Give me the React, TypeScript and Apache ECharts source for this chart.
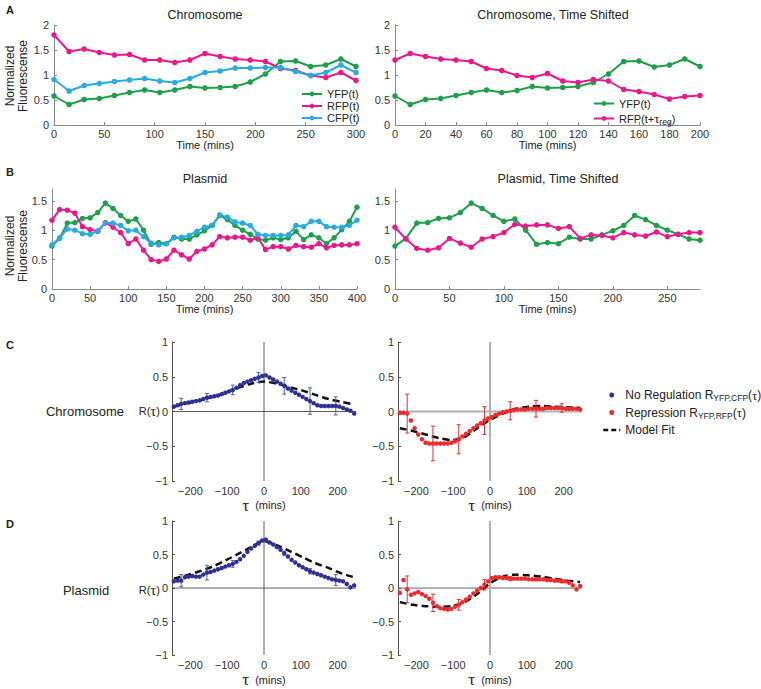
import React, { useEffect, useRef } from 'react';
import * as echarts from 'echarts';

const FONT = '"Liberation Sans", Arial, Helvetica, sans-serif';
const SERIF = '"Liberation Serif", "DejaVu Serif", serif';
const GREEN = '#1f9e4b';
const MAGENTA = '#e8198b';
const CYAN = '#29abe2';
const NAVY = '#2e3192';
const RED = '#ee2a2e';

// Panel A (chromosome)
const A_TIME = [0, 15, 30, 45, 60, 75, 90, 105, 120, 135, 150, 165, 180, 195, 210, 225, 240, 255, 270, 285, 300];
const A_YFP = [0.58, 0.41, 0.51, 0.53, 0.59, 0.65, 0.70, 0.65, 0.70, 0.77, 0.74, 0.75, 0.77, 0.86, 1.02, 1.27, 1.28, 1.17, 1.20, 1.32, 1.17];
const A_RFP = [1.80, 1.47, 1.52, 1.45, 1.40, 1.41, 1.30, 1.30, 1.25, 1.30, 1.43, 1.37, 1.32, 1.30, 1.27, 1.13, 1.09, 0.99, 0.95, 1.05, 0.89];
const A_CFP = [0.91, 0.68, 0.79, 0.83, 0.87, 0.90, 0.93, 0.88, 0.85, 0.93, 1.05, 1.08, 1.14, 1.14, 1.15, 1.15, 1.07, 0.99, 1.05, 1.20, 1.05];

const AS_TIME = [0, 10, 20, 30, 40, 50, 60, 70, 80, 90, 100, 110, 120, 130, 140, 150, 160, 170, 180, 190, 200];
const AS_YFP = [0.58, 0.41, 0.51, 0.53, 0.59, 0.65, 0.70, 0.65, 0.69, 0.77, 0.74, 0.75, 0.77, 0.85, 1.02, 1.27, 1.28, 1.16, 1.20, 1.32, 1.17];
const AS_RFP = [1.30, 1.43, 1.37, 1.32, 1.30, 1.27, 1.13, 1.09, 0.99, 0.95, 1.03, 0.88, 0.85, 0.91, 0.88, 0.71, 0.67, 0.61, 0.52, 0.57, 0.59];

// Panel B (plasmid)
const B_TIME = [0, 10, 20, 30, 40, 50, 60, 70, 80, 90, 100, 110, 120, 130, 140, 150, 160, 170, 180, 190, 200, 210, 220, 230, 240, 250, 260, 270, 280, 290, 300, 310, 320, 330, 340, 350, 360, 370, 380, 390, 400];
const B_YFP = [0.73, 0.86, 1.12, 1.13, 1.20, 1.21, 1.30, 1.46, 1.37, 1.25, 1.15, 1.19, 1.00, 0.76, 0.79, 0.77, 0.88, 0.85, 0.85, 0.92, 0.99, 1.08, 1.25, 1.18, 1.08, 1.00, 0.93, 0.85, 0.83, 0.87, 0.84, 0.87, 0.98, 0.84, 0.92, 0.87, 0.77, 0.87, 1.01, 1.15, 1.39];
const B_RFP = [1.17, 1.35, 1.34, 1.29, 1.06, 1.01, 0.98, 1.13, 1.05, 0.96, 0.77, 0.85, 0.66, 0.50, 0.47, 0.51, 0.66, 0.58, 0.51, 0.64, 0.68, 0.75, 0.89, 0.87, 0.88, 0.88, 0.83, 0.87, 0.67, 0.72, 0.72, 0.68, 0.74, 0.72, 0.71, 0.77, 0.70, 0.74, 0.75, 0.75, 0.77];
const B_CFP = [0.75, 0.87, 1.02, 1.00, 0.94, 0.93, 0.99, 1.12, 1.12, 1.08, 0.99, 1.00, 0.89, 0.78, 0.75, 0.77, 0.87, 0.88, 0.91, 0.98, 1.05, 1.08, 1.26, 1.22, 1.14, 1.12, 1.08, 0.93, 0.91, 0.91, 0.91, 0.92, 1.08, 1.06, 1.15, 1.15, 1.06, 1.05, 1.05, 1.08, 1.17];

const BS_TIME = [0, 10, 20, 30, 40, 50, 60, 70, 80, 90, 100, 110, 120, 130, 140, 150, 160, 170, 180, 190, 200, 210, 220, 230, 240, 250, 260, 270, 280];
const BS_YFP = [0.73, 0.86, 1.12, 1.13, 1.20, 1.21, 1.30, 1.46, 1.37, 1.25, 1.15, 1.19, 1.00, 0.76, 0.79, 0.77, 0.88, 0.85, 0.85, 0.92, 0.99, 1.08, 1.25, 1.18, 1.08, 1.00, 0.93, 0.85, 0.83];
const BS_RFP = [1.05, 0.85, 0.69, 0.66, 0.70, 0.86, 0.78, 0.71, 0.85, 0.89, 0.96, 1.10, 1.07, 1.09, 1.09, 1.03, 1.06, 0.86, 0.92, 0.91, 0.87, 0.96, 0.92, 0.90, 0.97, 0.89, 0.93, 0.96, 0.96];

// Panels C / D (correlation functions)
const TAU = [-245, -235, -225, -215, -205, -195, -185, -175, -165, -155, -145, -135, -125, -115, -105, -95, -85, -75, -65, -55, -45, -35, -25, -15, -5, 5, 15, 25, 35, 45, 55, 65, 75, 85, 95, 105, 115, 125, 135, 145, 155, 165, 175, 185, 195, 205, 215, 225, 235, 245];
const C_NOREG = [0.07, 0.09, 0.11, 0.12, 0.13, 0.14, 0.15, 0.16, 0.18, 0.20, 0.21, 0.22, 0.23, 0.25, 0.27, 0.29, 0.31, 0.34, 0.38, 0.41, 0.43, 0.45, 0.47, 0.49, 0.51, 0.52, 0.49, 0.46, 0.43, 0.40, 0.37, 0.33, 0.30, 0.27, 0.24, 0.21, 0.18, 0.15, 0.12, 0.09, 0.08, 0.08, 0.08, 0.08, 0.08, 0.07, 0.05, 0.03, 0.01, -0.03];
const C_REP = [-0.02, -0.02, -0.03, -0.13, -0.24, -0.33, -0.40, -0.45, -0.46, -0.46, -0.46, -0.46, -0.46, -0.46, -0.45, -0.43, -0.40, -0.36, -0.32, -0.28, -0.24, -0.20, -0.17, -0.13, -0.10, -0.08, -0.05, -0.03, -0.01, 0.00, 0.01, 0.02, 0.03, 0.03, 0.03, 0.04, 0.04, 0.04, 0.04, 0.04, 0.05, 0.05, 0.05, 0.05, 0.05, 0.04, 0.04, 0.04, 0.04, 0.03];
const D_NOREG = [0.10, 0.11, 0.11, 0.16, 0.17, 0.18, 0.17, 0.17, 0.20, 0.23, 0.24, 0.26, 0.28, 0.30, 0.32, 0.34, 0.36, 0.39, 0.43, 0.48, 0.54, 0.59, 0.63, 0.67, 0.71, 0.72, 0.68, 0.65, 0.61, 0.57, 0.52, 0.47, 0.42, 0.38, 0.34, 0.31, 0.28, 0.25, 0.23, 0.21, 0.19, 0.17, 0.15, 0.13, 0.12, 0.11, 0.10, 0.06, 0.01, 0.04];
const D_REP = [-0.07, 0.12, -0.02, -0.10, -0.08, -0.06, -0.09, -0.12, -0.16, -0.22, -0.27, -0.30, -0.31, -0.32, -0.31, -0.28, -0.25, -0.21, -0.17, -0.13, -0.08, -0.04, 0.00, 0.05, 0.10, 0.15, 0.16, 0.16, 0.15, 0.15, 0.14, 0.14, 0.14, 0.14, 0.14, 0.13, 0.13, 0.13, 0.13, 0.13, 0.12, 0.12, 0.11, 0.11, 0.10, 0.10, 0.08, 0.04, -0.02, 0.03];

const ERR_TAU = [-225, -155, -85, -15, 55, 125, 195];
const C_NOREG_ERR = [0.08, 0.06, 0.07, 0.07, 0.12, 0.19, 0.13];
const C_REP_ERR = [0.28, 0.25, 0.21, 0.20, 0.13, 0.12, 0.06];
const D_NOREG_ERR = [0.09, 0.11, 0.05, 0.03, 0.03, 0.04, 0.08];
const D_REP_ERR = [0.20, 0.13, 0.08, 0.08, 0.03, 0.02, 0.02];

const MODEL_TAU = [-245, -210, -175, -140, -105, -70, -35, 0, 35, 70, 105, 140, 175, 210, 245];
const C_NOREG_FIT = [0.07, 0.12, 0.16, 0.21, 0.27, 0.34, 0.40, 0.43, 0.40, 0.35, 0.30, 0.24, 0.18, 0.14, 0.10];
const C_REP_FIT = [-0.24, -0.28, -0.33, -0.38, -0.41, -0.37, -0.24, -0.12, -0.03, 0.04, 0.07, 0.08, 0.07, 0.06, 0.05];
const D_NOREG_FIT = [0.14, 0.19, 0.25, 0.32, 0.41, 0.51, 0.61, 0.70, 0.64, 0.55, 0.46, 0.37, 0.30, 0.22, 0.16];
const D_REP_FIT = [-0.21, -0.25, -0.27, -0.28, -0.27, -0.21, -0.09, 0.07, 0.17, 0.20, 0.19, 0.17, 0.14, 0.11, 0.09];

const zip = (xs: number[], ys: number[]) => xs.map((x, i) => [x, ys[i]]);
const minus = (v: number) => (v < 0 ? '\u2212' + Math.abs(v) : String(v));

const GRIDS = [
  { left: 54, top: 25, width: 302, height: 100 },
  { left: 395, top: 25, width: 305, height: 100 },
  { left: 52, top: 189, width: 305, height: 100 },
  { left: 395, top: 189, width: 305, height: 100 },
  { left: 172, top: 342, width: 184, height: 139 },
  { left: 398, top: 342, width: 184, height: 139 },
  { left: 172, top: 521, width: 184, height: 139 },
  { left: 398, top: 521, width: 184, height: 139 },
];

const timeX = (gi: number, max: number, ticks: number[]) => ({
  type: 'value', gridIndex: gi, min: 0, max,
  name: 'Time (mins)', nameLocation: 'middle', nameGap: 12,
  nameTextStyle: { fontSize: 11, color: '#222', fontFamily: FONT },
  axisLine: { show: true, onZero: false, lineStyle: { color: '#8a8a8a', width: 1 } },
  axisTick: { show: true, inside: true, length: 3, customValues: ticks, lineStyle: { color: '#8a8a8a' } },
  axisLabel: { customValues: ticks, fontSize: 11, color: '#333', margin: 3, fontFamily: FONT },
  splitLine: { show: false },
});
const fluoY = (gi: number, max: number, ticks: number[]) => ({
  type: 'value', gridIndex: gi, min: 0, max,
  axisLine: { show: true, onZero: false, lineStyle: { color: '#8a8a8a', width: 1 } },
  axisTick: { show: true, inside: true, length: 3, customValues: ticks, lineStyle: { color: '#8a8a8a' } },
  axisLabel: { customValues: ticks, fontSize: 11, color: '#333', margin: 5, fontFamily: FONT },
  splitLine: { show: false },
});
const tauX = (gi: number) => ({
  type: 'value', gridIndex: gi, min: -250, max: 250,
  name: '{t|\u03c4}  (mins)', nameLocation: 'middle', nameGap: 12,
  nameTextStyle: { fontSize: 11, color: '#222', fontFamily: FONT, rich: { t: { fontFamily: SERIF, fontSize: 17, color: '#222' } } },
  axisLine: { show: false, onZero: false },
  axisTick: { show: false },
  axisLabel: { customValues: [-200, -100, 0, 100, 200], formatter: minus, fontSize: 11, color: '#333', margin: 4, fontFamily: FONT },
  splitLine: { show: false },
});
const corrY = (gi: number) => ({
  type: 'value', gridIndex: gi, min: -1, max: 1,
  axisLine: { show: true, onZero: false, lineStyle: { color: '#555', width: 1 } },
  axisTick: { show: true, inside: true, length: 3, customValues: [-1, -0.5, 0, 0.5, 1], lineStyle: { color: '#555' } },
  axisLabel: { customValues: [-1, -0.5, 0, 0.5, 1], formatter: minus, fontSize: 11, color: '#333', margin: 4, fontFamily: FONT },
  splitLine: { show: false },
});

const lineSeries = (name: string, gi: number, xs: number[], ys: number[], color: string) => ({
  type: 'line', name, xAxisIndex: gi, yAxisIndex: gi, data: zip(xs, ys),
  symbol: 'circle', symbolSize: 5.5, showSymbol: true,
  lineStyle: { color, width: 2 }, itemStyle: { color, opacity: 1 }, z: 3, silent: true,
});
const refLine = (gi: number, data: number[][], color: string, width: number) => ({
  type: 'line', xAxisIndex: gi, yAxisIndex: gi, data, symbol: 'none', silent: true,
  lineStyle: { color, width }, z: 1,
});
const fitSeries = (gi: number, ys: number[]) => ({
  type: 'line', name: 'Model Fit', xAxisIndex: gi, yAxisIndex: gi, data: zip(MODEL_TAU, ys),
  symbol: 'none', smooth: 0.3, silent: true,
  lineStyle: { color: '#111', width: 2.5, type: [7, 4] }, itemStyle: { color: '#111' }, z: 3,
});
const dotSeries = (name: string, gi: number, ys: number[], color: string) => ({
  type: 'scatter', name, xAxisIndex: gi, yAxisIndex: gi, data: zip(TAU, ys),
  symbol: 'circle', symbolSize: 4.5, itemStyle: { color, opacity: 1 }, z: 5, silent: true,
});
const errSeries = (gi: number, center: number[], err: number[], color: string) => ({
  type: 'custom', xAxisIndex: gi, yAxisIndex: gi, silent: true, z: 4,
  data: ERR_TAU.map((t, i) => {
    const c = center[TAU.indexOf(t)];
    return [t, c - err[i], c + err[i]];
  }),
  encode: { x: 0, y: [1, 2] },
  renderItem: (params: any, api: any) => {
    const lo = api.coord([api.value(0), api.value(1)]);
    const hi = api.coord([api.value(0), api.value(2)]);
    const w = 2;
    const st = { stroke: color, lineWidth: 1 };
    return {
      type: 'group',
      children: [
        { type: 'line', shape: { x1: lo[0], y1: lo[1], x2: hi[0], y2: hi[1] }, style: st },
        { type: 'line', shape: { x1: lo[0] - w, y1: lo[1], x2: lo[0] + w, y2: lo[1] }, style: st },
        { type: 'line', shape: { x1: hi[0] - w, y1: hi[1], x2: hi[0] + w, y2: hi[1] }, style: st },
      ],
    };
  },
});

const txt = (text: string, x: number, y: number, extra: any = {}) => ({
  type: 'text', x, y, silent: true,
  style: { text, fontFamily: FONT, fontSize: 12.5, fill: '#222', align: 'center', verticalAlign: 'middle', ...extra },
});

function buildOption(): any {
  const series: any[] = [
    lineSeries('YFP(t)', 0, A_TIME, A_YFP, GREEN),
    lineSeries('RFP(t)', 0, A_TIME, A_RFP, MAGENTA),
    lineSeries('CFP(t)', 0, A_TIME, A_CFP, CYAN),
    lineSeries('YFP(t)', 1, AS_TIME, AS_YFP, GREEN),
    lineSeries('RFP(t+\u03c4reg)', 1, AS_TIME, AS_RFP, MAGENTA),
    lineSeries('B YFP', 2, B_TIME, B_YFP, GREEN),
    lineSeries('B RFP', 2, B_TIME, B_RFP, MAGENTA),
    lineSeries('B CFP', 2, B_TIME, B_CFP, CYAN),
    lineSeries('BS YFP', 3, BS_TIME, BS_YFP, GREEN),
    lineSeries('BS RFP', 3, BS_TIME, BS_RFP, MAGENTA),
    // C left
    refLine(4, [[-250, 0], [250, 0]], '#333', 0.8),
    refLine(4, [[0, -1], [0, 1]], '#333', 0.8),
    fitSeries(4, C_NOREG_FIT),
    errSeries(4, C_NOREG, C_NOREG_ERR, '#4a5fc0'),
    dotSeries('No Regulation', 4, C_NOREG, NAVY),
    // C right
    refLine(5, [[-250, 0], [250, 0]], '#b0b0b0', 2),
    refLine(5, [[0, -1], [0, 1]], '#b0b0b0', 2),
    fitSeries(5, C_REP_FIT),
    errSeries(5, C_REP, C_REP_ERR, '#d8343c'),
    dotSeries('Repression', 5, C_REP, RED),
    // D left
    refLine(6, [[-250, 0], [250, 0]], '#333', 0.8),
    refLine(6, [[0, -1], [0, 1]], '#333', 0.8),
    fitSeries(6, D_NOREG_FIT),
    errSeries(6, D_NOREG, D_NOREG_ERR, '#4a5fc0'),
    dotSeries('No Regulation', 6, D_NOREG, NAVY),
    // D right
    refLine(7, [[-250, 0], [250, 0]], '#555', 0.9),
    refLine(7, [[0, -1], [0, 1]], '#b0b0b0', 2),
    fitSeries(7, D_REP_FIT),
    errSeries(7, D_REP, D_REP_ERR, '#d8343c'),
    dotSeries('Repression', 7, D_REP, RED),
  ];

  const subRich = {
    sub: { fontSize: 8.5, fontFamily: FONT, color: '#222', padding: [6, 0, 0, 0] },
    t: { fontSize: 13, fontFamily: SERIF, color: '#222' },
  };

  return {
    animation: false,
    backgroundColor: '#fff',
    grid: GRIDS.map((g) => ({ ...g, containLabel: false })),
    xAxis: [
      timeX(0, 300, [0, 50, 100, 150, 200, 250, 300]),
      timeX(1, 200, [0, 20, 40, 60, 80, 100, 120, 140, 160, 180, 200]),
      timeX(2, 400, [0, 50, 100, 150, 200, 250, 300, 350, 400]),
      timeX(3, 280, [0, 50, 100, 150, 200, 250]),
      tauX(4), tauX(5), tauX(6), tauX(7),
    ],
    yAxis: [
      fluoY(0, 2, [0, 0.5, 1, 1.5, 2]),
      fluoY(1, 2, [0, 0.5, 1, 1.5, 2]),
      fluoY(2, 1.7, [0, 0.5, 1, 1.5]),
      fluoY(3, 1.7, [0, 0.5, 1, 1.5]),
      corrY(4), corrY(5), corrY(6), corrY(7),
    ],
    legend: [
      {
        data: ['YFP(t)', 'RFP(t)', 'CFP(t)'], orient: 'vertical', left: 296, top: 83,
        itemWidth: 20, itemHeight: 6, itemGap: 0, selectedMode: false,
        textStyle: { fontSize: 11, fontFamily: FONT, color: '#222', lineHeight: 12 },
      },
      {
        data: ['YFP(t)', 'RFP(t+\u03c4reg)'], orient: 'vertical', left: 588, top: 92,
        itemWidth: 20, itemHeight: 6, itemGap: 2, selectedMode: false,
        formatter: (n: string) => (n === 'YFP(t)' ? 'YFP(t)' : 'RFP(t+{t|\u03c4}{sub|reg})'),
        textStyle: { fontSize: 11, fontFamily: FONT, color: '#222', lineHeight: 13, rich: subRich },
      },
      {
        data: [
          { name: 'No Regulation' },
          { name: 'Repression' },
          { name: 'Model Fit', itemStyle: { opacity: 0 }, lineStyle: { color: '#111', width: 2.5, type: [5, 3] } },
        ],
        orient: 'vertical', left: 597, top: 383,
        itemWidth: 17, itemHeight: 5, itemGap: 3, selectedMode: false,
        formatter: (n: string) =>
          n === 'No Regulation' ? 'No Regulation R{sub|YFP,CFP}({t|\u03c4})'
            : n === 'Repression' ? 'Repression R{sub|YFP,RFP}({t|\u03c4})' : 'Model Fit',
        textStyle: { fontSize: 12, fontFamily: FONT, color: '#222', lineHeight: 14, rich: subRich },
      },
    ],
    graphic: [
      txt('A', 10, 10, { fontWeight: 'bold', fontSize: 11 }),
      txt('B', 10, 172, { fontWeight: 'bold', fontSize: 11 }),
      txt('C', 10, 345, { fontWeight: 'bold', fontSize: 11 }),
      txt('D', 10, 524, { fontWeight: 'bold', fontSize: 11 }),
      txt('Chromosome', 205, 15),
      txt('Chromosome, Time Shifted', 553, 15),
      txt('Plasmid', 205, 179),
      txt('Plasmid, Time Shifted', 558, 179),
      { type: 'text', x: 16, y: 76, rotation: Math.PI / 2, silent: true,
        style: { text: 'Normalized\nFluorescense', fontFamily: FONT, fontSize: 12, lineHeight: 13, fill: '#222', align: 'center', verticalAlign: 'middle' } },
      { type: 'text', x: 16, y: 246, rotation: Math.PI / 2, silent: true,
        style: { text: 'Normalized\nFluorescense', fontFamily: FONT, fontSize: 12, lineHeight: 13, fill: '#222', align: 'center', verticalAlign: 'middle' } },
      txt('Chromosome', 85, 411, { fontSize: 13 }),
      txt('Plasmid', 86, 590, { fontSize: 13 }),
      txt('R({t|\u03c4})', 160, 411, { fontSize: 11, align: 'right', rich: { t: { fontFamily: SERIF, fontSize: 15, fill: '#222' } } }),
      txt('R({t|\u03c4})', 160, 590, { fontSize: 11, align: 'right', rich: { t: { fontFamily: SERIF, fontSize: 15, fill: '#222' } } }),
    ],
    series,
  };
}

export default function App() {
  const ref = useRef<HTMLDivElement>(null);
  useEffect(() => {
    const chart = echarts.init(ref.current!, null, { renderer: 'svg' });
    chart.setOption(buildOption());
    return () => chart.dispose();
  }, []);
  return (
    <div
      ref={ref}
      style={{ position: 'absolute', left: 0, top: 0, width: 761, height: 689, background: '#fff' }}
    />
  );
}
